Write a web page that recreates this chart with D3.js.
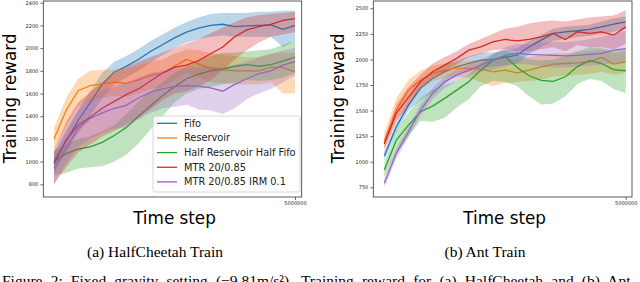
<!DOCTYPE html>
<html>
<head>
<meta charset="utf-8">
<script src="https://cdn.jsdelivr.net/npm/d3@7"></script>
<style>
  body { margin: 0; background: #fff; }
  svg { display: block; }
  .tick text { font-family: "DejaVu Sans", sans-serif; }
  .axisLabel { font-family: "DejaVu Sans", sans-serif; font-size: 16.8px; fill: #000; }
  .caption { font-family: "Liberation Serif", "Times New Roman", serif; font-size: 15.5px; fill: #000; }
  .legend text { font-family: "DejaVu Sans", sans-serif; font-size: 9.8px; fill: #222; }
</style>
</head>
<body>
<svg id="chart" width="640" height="282"></svg>
<script>
const width = 640, height = 282;
const svg = d3.select('#chart');

// time steps (x) shared by every run
const steps = [0, 250000, 500000, 750000, 1000000, 1250000, 1500000, 1750000, 2000000, 2250000,
  2500000, 2750000, 3000000, 3250000, 3500000, 3750000, 4000000, 4250000, 4500000, 4750000, 5000000];

const seriesNames = ['Fifo', 'Reservoir', 'Half Reservoir Half Fifo', 'MTR 20/0.85', 'MTR 20/0.85 IRM 0.1'];
const seriesColors = ['#1f77b4', '#ff7f0e', '#2ca02c', '#d62728', '#9467bd'];

const cheetahTicks = [800, 1000, 1200, 1400, 1600, 1800, 2000, 2200, 2400];
const antTicks = [750, 1000, 1250, 1500, 1750, 2000, 2250, 2500];
const xTicks = [5000000];

// HalfCheetah
const cheetahFifo     = [1000,1180,1360,1520,1680,1790,1840,1900,1970,2030,2090,2140,2175,2200,2210,2190,2195,2200,2205,2165,2200];
const cheetahFifoLo   = [900,1080,1250,1400,1560,1680,1740,1800,1870,1940,2000,2050,2080,2100,2110,2100,2100,2100,2100,2010,2060];
const cheetahFifoHi   = [1080,1280,1460,1620,1780,1880,1930,1990,2060,2120,2180,2230,2270,2300,2310,2310,2310,2320,2320,2330,2330];
const cheetahRes      = [1200,1450,1625,1670,1685,1700,1690,1720,1760,1780,1840,1900,1860,1820,1810,1800,1800,1800,1830,1830,1790];
const cheetahResLo    = [1100,1300,1480,1540,1560,1580,1570,1600,1640,1660,1720,1780,1740,1700,1690,1680,1680,1680,1700,1600,1600];
const cheetahResHi    = [1300,1560,1730,1800,1810,1810,1820,1850,1880,1900,1950,1990,1980,1960,1940,1930,1920,1920,1950,1960,1960];
const cheetahHalf     = [1000,1070,1110,1130,1170,1230,1300,1400,1490,1580,1660,1730,1770,1800,1815,1840,1855,1840,1855,1885,1920];
const cheetahHalfLo   = [880,900,940,950,960,1000,1060,1160,1280,1400,1520,1600,1640,1660,1680,1700,1720,1710,1720,1740,1780];
const cheetahHalfHi   = [1100,1150,1200,1220,1270,1320,1420,1530,1620,1700,1780,1840,1880,1930,1960,1960,1970,1980,1990,2030,2060];
const cheetahMtr      = [980,1190,1320,1390,1470,1530,1590,1640,1710,1780,1830,1850,1890,1950,2010,2100,2160,2190,2210,2245,2260];
const cheetahMtrLo    = [800,950,1080,1150,1220,1270,1330,1380,1460,1540,1600,1620,1660,1720,1800,1900,1980,2050,2100,2120,2140];
const cheetahMtrHi    = [1100,1350,1520,1610,1700,1780,1840,1880,1920,1960,2000,2040,2080,2130,2180,2230,2270,2290,2300,2310,2320];
const cheetahIrm      = [940,1120,1290,1380,1430,1470,1495,1560,1610,1640,1660,1670,1665,1650,1620,1680,1730,1775,1800,1850,1880];
const cheetahIrmLo    = [800,980,1130,1200,1250,1290,1300,1370,1430,1470,1480,1500,1460,1450,1420,1470,1550,1600,1640,1700,1760];
const cheetahIrmHi    = [1050,1250,1450,1560,1620,1660,1690,1740,1780,1800,1820,1830,1830,1840,1830,1850,1880,1920,1950,1980,2000];

// Ant
const antFifo     = [1056,1342,1553,1717,1814,1879,1928,1961,1993,1999,2019,2042,2123,2188,2254,2270,2280,2293,2318,2345,2367];
const antFifoLo   = [1010,1290,1500,1600,1680,1760,1860,1880,1920,1930,1940,1960,2050,2120,2180,2200,2220,2230,2250,2270,2300];
const antFifoHi   = [1100,1390,1600,1770,1870,1940,1990,2030,2060,2070,2090,2110,2180,2240,2300,2320,2330,2340,2370,2400,2420];
const antRes      = [1195,1505,1700,1798,1863,1895,1912,1912,1905,1879,1895,1869,1895,1928,1954,1960,1967,1977,2019,1954,1977];
const antResLo    = [1110,1400,1600,1710,1790,1820,1830,1820,1780,1740,1770,1780,1790,1800,1830,1840,1850,1860,1880,1850,1870];
const antResHi    = [1280,1620,1800,1890,1940,1960,1970,1990,2000,2000,2010,2000,2020,2040,2060,2060,2070,2080,2100,2060,2080];
const antHalf     = [919,1212,1358,1488,1544,1619,1700,1781,1895,1990,2030,1920,1840,1795,1785,1830,1930,1990,1960,1900,1889];
const antHalfLo   = [850,1080,1250,1400,1390,1430,1530,1610,1740,1790,1780,1740,1640,1560,1570,1640,1760,1810,1790,1710,1670];
const antHalfHi   = [990,1300,1480,1620,1700,1750,1790,1850,1960,2050,2090,2050,2000,1990,2000,2030,2080,2120,2110,2090,2100];
const antMtr      = [1173,1475,1628,1781,1879,1944,2010,2090,2123,2172,2195,2182,2195,2221,2254,2195,2270,2254,2270,2237,2318];
const antMtrLo    = [1120,1400,1540,1720,1820,1880,1950,2020,2050,2090,2100,2080,2080,2100,2120,2080,2140,2120,2120,2100,2150];
const antMtrHi    = [1230,1560,1730,1850,1960,2020,2080,2150,2200,2250,2300,2320,2350,2370,2380,2370,2390,2410,2420,2430,2480];
const antIrm      = [789,1082,1293,1505,1667,1781,1847,1895,1944,1990,2040,2060,2050,2045,2040,2035,2040,2050,2060,2090,2105];
const antIrmLo    = [750,1030,1240,1450,1610,1720,1790,1840,1880,1900,1940,1960,1950,1930,1920,1920,1930,1940,1950,1960,1980];
const antIrmHi    = [840,1130,1340,1560,1720,1830,1900,1950,2000,2050,2120,2150,2150,2160,2170,2170,2180,2200,2220,2250,2280];

const panels = [
  {
    frame: {left: 43.3, right: 301.7, top: 1, bottom: 197},
    xDomain: [-222000, 5139000],
    yDomain: [688, 2415],
    yTicks: cheetahTicks,
    yLabelX: 15.8,
    caption: '(a) HalfCheetah Train', captionX: 155,
    legend: true,
    runs: [
      [cheetahFifo, cheetahFifoLo, cheetahFifoHi],
      [cheetahRes, cheetahResLo, cheetahResHi],
      [cheetahHalf, cheetahHalfLo, cheetahHalfHi],
      [cheetahMtr, cheetahMtrLo, cheetahMtrHi],
      [cheetahIrm, cheetahIrmLo, cheetahIrmHi]
    ]
  },
  {
    frame: {left: 373.3, right: 632, top: 1, bottom: 197},
    xDomain: [-228000, 5130500],
    yDomain: [655, 2571],
    yTicks: antTicks,
    yLabelX: 344,
    caption: '(b) Ant Train', captionX: 485,
    legend: false,
    runs: [
      [antFifo, antFifoLo, antFifoHi],
      [antRes, antResLo, antResHi],
      [antHalf, antHalfLo, antHalfHi],
      [antMtr, antMtrLo, antMtrHi],
      [antIrm, antIrmLo, antIrmHi]
    ]
  }
];

panels.forEach(p => {
  const f = p.frame;
  const x = d3.scaleLinear().domain(p.xDomain).range([f.left, f.right]);
  const y = d3.scaleLinear().domain(p.yDomain).range([f.bottom, f.top]);

  const g = svg.append('g');

  // bands + mean lines, in series order
  p.runs.forEach((run, k) => {
    const [mean, lo, hi] = run;
    const area = d3.area()
      .x((d, i) => x(steps[i]))
      .y0((d, i) => y(lo[i]))
      .y1((d, i) => y(hi[i]))
      ;
    const line = d3.line()
      .x((d, i) => x(steps[i]))
      .y(d => y(d))
      ;
    g.append('path')
      .attr('d', area(steps))
      .style('fill', seriesColors[k])
      .style('fill-opacity', 0.3)
      ;
    g.append('path')
      .attr('d', line(mean))
      .style('fill', 'none')
      .style('stroke', seriesColors[k])
      .style('stroke-width', 1.3)
      ;
  });

  // frame
  g.append('rect')
    .attr('x', f.left).attr('y', f.top)
    .attr('width', f.right - f.left).attr('height', f.bottom - f.top)
    .style('fill', 'none')
    .style('stroke', '#333')
    .style('stroke-width', 0.8)
    ;

  // axes
  const yAxis = d3.axisLeft(y).tickValues(p.yTicks).tickFormat(d3.format('d')).tickSize(3).tickPadding(2);
  const xAxis = d3.axisBottom(x).tickValues(xTicks).tickFormat(d3.format('d')).tickSize(3).tickPadding(1.5);

  const ya = g.append('g')
    .attr('transform', 'translate(' + f.left + ',0)')
    .call(yAxis)
    ;
  const xa = g.append('g')
    .attr('transform', 'translate(0,' + f.bottom + ')')
    .call(xAxis)
    ;
  [ya, xa].forEach(a => {
    a.select('.domain').remove();
    a.selectAll('line').style('stroke', '#333').style('stroke-width', 0.7);
    a.selectAll('text').style('font-size', '5px').style('fill', '#222');
  });

  // axis labels
  g.append('text')
    .attr('class', 'axisLabel')
    .attr('x', (f.left + f.right) / 2 + 2)
    .attr('y', 224)
    .attr('text-anchor', 'middle')
    .text('Time step')
    ;
  g.append('text')
    .attr('class', 'axisLabel')
    .attr('transform', 'translate(' + p.yLabelX + ',98.3) rotate(-90)')
    .attr('text-anchor', 'middle')
    .text('Training reward')
    ;

  // sub caption
  g.append('text')
    .attr('class', 'caption')
    .attr('x', p.captionX)
    .attr('y', 256.7)
    .attr('text-anchor', 'middle')
    .text(p.caption)
    ;

  if (p.legend) {
    const lg = g.append('g').attr('class', 'legend');
    lg.append('rect')
      .attr('x', 153).attr('y', 116)
      .attr('width', 147).attr('height', 76)
      .attr('rx', 2)
      .style('fill', '#fff')
      .style('fill-opacity', 0.8)
      .style('stroke', '#ccc')
      .style('stroke-width', 0.8)
      ;
    const rows = lg.selectAll('.row')
      .data(seriesNames)
      .join('g')
        .attr('class', 'row')
        .attr('transform', (d, i) => 'translate(0,' + (123.3 + i * 14.65) + ')')
      ;
    rows.append('line')
      .attr('x1', 157).attr('x2', 177)
      .style('stroke', (d, i) => seriesColors[i])
      .style('stroke-width', 1.3)
      ;
    rows.append('text')
      .attr('x', 184)
      .attr('dy', '0.35em')
      .text(d => d)
      ;
  }
});

// figure caption (justified line in the paper, cut by the bottom edge)
svg.append('text')
  .attr('class', 'caption')
  .attr('x', 2)
  .attr('y', 285.5)
  .style('word-spacing', '4.3px')
  .text('Figure 2: Fixed gravity setting (−9.81m/s²). Training reward for (a) HalfCheetah and (b) Ant')
  ;
</script>
</body>
</html>
